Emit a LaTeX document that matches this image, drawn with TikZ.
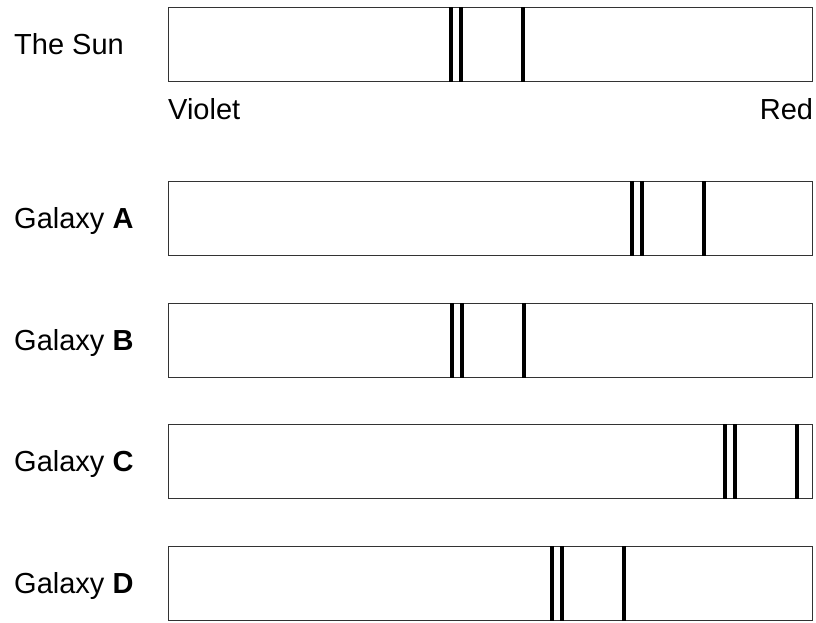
\documentclass[tikz,border=0pt]{standalone}
\usepackage{fontspec}
\setmainfont{Liberation Sans}
\usetikzlibrary{positioning}

\begin{document}
\begin{tikzpicture}[x=1pt, y=-1pt,
  specbox/.style={draw=black!80, line width=1.3pt, minimum width=644pt,
    minimum height=74pt, inner sep=0pt, anchor=north west},
  absline/.style={line width=3.6pt, black},
  lab/.style={font=\fontsize{29}{34}\selectfont, inner sep=0pt}]
  \useasboundingbox (0,0) rectangle (816,622);
  % one strip per source: name / top edge / shift of the line pattern / label
  \foreach \name/\top/\shift/\txt in {sun/7/283/{The Sun},
      galA/181/464/{Galaxy \textbf{A}}, galB/303/284/{Galaxy \textbf{B}},
      galC/424/557/{Galaxy \textbf{C}}, galD/546/384/{Galaxy \textbf{D}}}{
    \node[specbox] (\name) at (168,\top) {};
    \node[lab, anchor=base west] (\name-lab) at (14,\top+47) {\txt};
    \foreach \d in {0,10,72}{
      \draw[absline] ([xshift=\shift pt+\d pt]\name.north west)
        -- ([xshift=\shift pt+\d pt]\name.south west);
    }
  }
  \node[lab, anchor=base west] (violet) at ([yshift=-37pt]sun.south west) {Violet};
  \node[lab, anchor=base east] (red) at ([yshift=-37pt]sun.south east) {Red};
\end{tikzpicture}
\end{document}
